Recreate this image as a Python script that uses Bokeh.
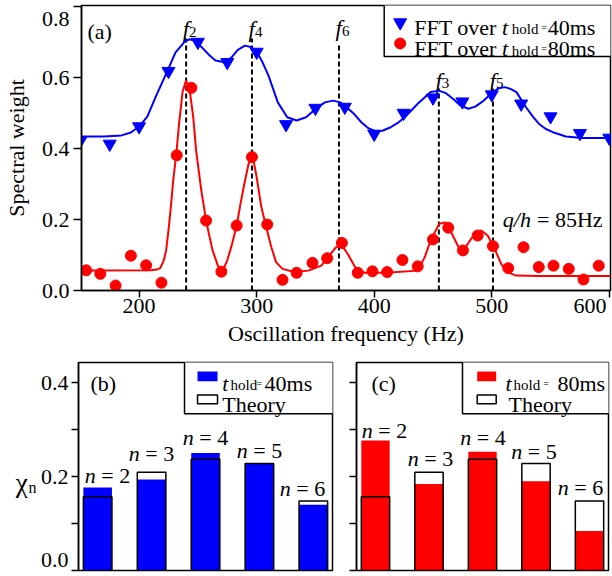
from bokeh.plotting import figure
from bokeh.layouts import column, row
from bokeh.models import Range1d, FixedTicker, CustomJSTickFormatter, CustomLabelingPolicy, LinearAxis
from bokeh.embed import file_html
from bokeh.resources import INLINE
from bokeh.core.properties import value

SERIF = "Liberation Serif"
BLUE = "#0000ff"
RED = "#ff0000"

# ---------------- data: panel (a) ----------------
freq_40ms = [150, 175, 200, 225, 250, 275, 300, 325, 350, 375, 400, 425, 450, 475, 500, 525, 550, 575, 600]
weight_40ms = [0.422, 0.413, 0.462, 0.618, 0.700, 0.643, 0.672, 0.468, 0.514, 0.517, 0.441, 0.500, 0.543,
               0.532, 0.552, 0.526, 0.490, 0.443, 0.430]

freq_80ms = [155, 167, 180, 193, 206, 219, 232, 244.5, 257, 270, 283, 296, 309, 322, 334, 347.5, 360, 372.5,
             386, 398.5, 411, 424, 437, 450, 463, 475.5, 488, 501, 514, 527, 540, 552.5, 565.5, 578, 591]
weight_80ms = [0.057, 0.047, 0.014, 0.098, 0.071, 0.022, 0.381, 0.571, 0.197, 0.053, 0.183, 0.376, 0.186,
               0.030, 0.050, 0.078, 0.091, 0.134, 0.050, 0.054, 0.052, 0.086, 0.068, 0.144, 0.177, 0.113,
               0.155, 0.125, 0.063, 0.122, 0.066, 0.070, 0.061, 0.031, 0.070]

fit_freq_40ms = [150, 170, 185, 193, 200, 207, 214, 224, 231, 239, 243, 248, 254, 260, 265, 273, 279, 284, 290,
                 295, 300, 305, 310, 318, 326, 334, 342, 351, 358, 365, 371, 376, 383, 389, 395, 401, 407, 414,
                 420, 426, 437, 448, 455, 461, 467, 473, 480, 486, 492, 501, 506, 511, 516, 521, 529, 535, 540,
                 546, 552, 563, 577, 601]
fit_weight_40ms = [0.434, 0.434, 0.437, 0.445, 0.462, 0.490, 0.545, 0.618, 0.671, 0.702, 0.708, 0.703, 0.683,
                   0.662, 0.648, 0.643, 0.658, 0.678, 0.690, 0.686, 0.673, 0.643, 0.606, 0.530, 0.488, 0.479,
                   0.488, 0.514, 0.530, 0.535, 0.530, 0.518, 0.497, 0.474, 0.457, 0.449, 0.450, 0.460, 0.472,
                   0.488, 0.526, 0.559, 0.563, 0.556, 0.540, 0.522, 0.512, 0.518, 0.532, 0.559, 0.570, 0.573,
                   0.568, 0.559, 0.517, 0.490, 0.470, 0.455, 0.446, 0.434, 0.430, 0.430]

fit_freq_80ms = [150, 210, 215, 218, 221, 223, 225, 227, 229, 231.5, 234, 237, 240, 243, 246, 248.5, 251, 253,
                 257, 260, 262.5, 267, 270, 272, 275, 279, 283, 286, 289.5, 293, 296, 298, 300, 304, 308,
                 312.5, 316.5, 322, 332, 344, 355, 363, 367, 370.5, 374, 377.5, 384.5, 392, 410, 437, 443,
                 448.5, 455.5, 460, 465.5, 472.5, 476, 482.5, 487, 491, 496.5, 502.5, 508, 513.5, 520.5, 540, 601]
fit_weight_80ms = [0.056, 0.057, 0.059, 0.063, 0.085, 0.113, 0.170, 0.235, 0.310, 0.380, 0.470, 0.560, 0.592,
                   0.565, 0.490, 0.394, 0.330, 0.280, 0.197, 0.150, 0.113, 0.070, 0.056, 0.062, 0.085, 0.130,
                   0.183, 0.240, 0.300, 0.355, 0.378, 0.355, 0.319, 0.235, 0.180, 0.122, 0.080, 0.061, 0.052,
                   0.056, 0.070, 0.103, 0.120, 0.128, 0.120, 0.103, 0.061, 0.050, 0.050, 0.056, 0.094, 0.146,
                   0.188, 0.192, 0.164, 0.117, 0.113, 0.146, 0.163, 0.169, 0.155, 0.117, 0.075, 0.052, 0.042,
                   0.041, 0.041]

mode_index = ["2", "4", "6", "3", "5"]
mode_freq = [240, 296, 370, 455, 501]

freq_ticks = [200, 300, 400, 500, 600]
weight_ticks = [0.0, 0.2, 0.4, 0.6, 0.8]

# ---------------- data: panels (b), (c) ----------------
n_values = [2, 3, 4, 5, 6]
chi_40ms = [0.177, 0.194, 0.250, 0.229, 0.140]
chi_80ms = [0.277, 0.184, 0.253, 0.190, 0.084]
chi_theory = [0.157, 0.209, 0.237, 0.228, 0.148]
n_labels = ["2", "3", "4", "5", "6"]
chi_ticks = [0.0, 0.2, 0.4]
chi_minor_ticks = [0.1, 0.3]

# ---------------- layout constants (label positions, in data units) ----------------
mode_line_top = [0.71, 0.71, 0.699, 0.569, 0.569]
mode_label_base = [0.735, 0.735, 0.738, 0.589, 0.589]
# the reference draws the corner tick numbers nudged inward
weight_label_pos = [0.0, 0.2, 0.4, 0.6, 0.766]
freq_label_pos = [200, 300, 400, 500, 583.6]
chi_label_pos = [0.0213, 0.2, 0.4]

n_label_x_b = [2.184, 2.999, 4.0, 5.002, 5.80]
n_label_y_b = [0.202, 0.249, 0.283, 0.255, 0.174]
n_label_x_c = [2.168, 3.028, 4.009, 4.963, 5.832]
n_label_y_c = [0.298, 0.238, 0.283, 0.253, 0.177]

TOOLS = dict(output_backend="svg", toolbar_location=None)


def base_style(p):
    p.grid.visible = False
    p.background_fill_color = "white"
    p.border_fill_color = "white"


def frame_style(p):
    base_style(p)
    p.outline_line_color = "black"
    p.outline_line_width = 1.5


def tick_axis(ax, out):
    """Axis that draws its line and tick marks; its numbers come from a second, stacked axis."""
    ax.axis_line_color = "black"
    ax.axis_line_width = 1.5
    ax.major_tick_line_color = "black"
    ax.major_tick_line_width = 1.5
    ax.major_tick_in = 0
    ax.major_tick_out = out
    ax.minor_tick_line_color = None
    ax.major_label_text_font_size = "0px"
    ax.major_label_standoff = 0
    ax.major_label_policy = CustomLabelingPolicy(code="return [];")


def label_axis(ticks, fmt_code, standoff, title=None, title_standoff=0):
    """Axis that only draws the numbers (and title)."""
    ax = LinearAxis(ticker=FixedTicker(ticks=ticks), formatter=CustomJSTickFormatter(code=fmt_code))
    ax.axis_line_color = None
    ax.major_tick_line_color = None
    ax.minor_tick_line_color = None
    ax.major_tick_in = 0
    ax.major_tick_out = 0
    ax.minor_tick_in = 0
    ax.minor_tick_out = 0
    ax.major_label_standoff = standoff
    ax.major_label_text_font = SERIF
    ax.major_label_text_font_size = "22px"
    ax.major_label_text_color = "black"
    if title:
        ax.axis_label = title
        ax.axis_label_standoff = title_standoff
        ax.axis_label_text_font = SERIF
        ax.axis_label_text_font_size = "22px"
        ax.axis_label_text_font_style = "normal"
        ax.axis_label_text_color = "black"
    return ax


def txt(p, x, y, s, size="22px", style="normal", align="left", baseline="alphabetic", dx=0, dy=0):
    p.text(x=[x], y=[y], text=[s], text_font=value(SERIF), text_font_size=size, text_font_style=style,
           text_align=align, text_baseline=baseline, x_offset=dx, y_offset=dy, text_color="black")


# ---------------- panel (a) ----------------
pa = figure(width=612, height=352, x_range=Range1d(151, 601), y_range=Range1d(0, 0.803),
            min_border_left=80, min_border_right=2, min_border_top=5, min_border_bottom=62, **TOOLS)
frame_style(pa)
pa.xaxis.ticker = FixedTicker(ticks=freq_ticks)
pa.yaxis.ticker = FixedTicker(ticks=weight_ticks)
tick_axis(pa.xaxis[0], 7)
tick_axis(pa.yaxis[0], 8)
pa.add_layout(label_axis(freq_label_pos, "return tick > 550 ? '600' : tick.toFixed(0);", 1,
                         "Oscillation frequency (Hz)", 5), "below")
pa.add_layout(label_axis(weight_label_pos, "return tick > 0.7 ? '0.8' : tick.toFixed(1);", 4,
                         "Spectral weight", 10), "left")

pa.segment(x0=mode_freq, y0=[0] * len(mode_freq), x1=mode_freq, y1=mode_line_top,
           line_color="black", line_width=2, line_dash="5 3")
pa.text(x=mode_freq, y=mode_label_base, text=["f"] * len(mode_freq), text_font=value(SERIF),
        text_font_size="23px", text_font_style="italic", text_align="right", text_baseline="alphabetic",
        x_offset=3)
pa.text(x=mode_freq, y=mode_label_base, text=mode_index, text_font=value(SERIF),
        text_font_size="15px", text_align="left", text_baseline="alphabetic", x_offset=3, y_offset=2)

pa.line(fit_freq_40ms, fit_weight_40ms, line_color=BLUE, line_width=2)
pa.line(fit_freq_80ms, fit_weight_80ms, line_color=RED, line_width=2)
pa.scatter(freq_40ms, weight_40ms, marker="inverted_triangle", size=13, fill_color=BLUE, line_color=BLUE)
pa.scatter(freq_80ms, weight_80ms, marker="circle", size=11, fill_color=RED, line_color=RED)

txt(pa, 156.1, 0.73, "(a)")
txt(pa, 509.4, 0.20, "q/h", style="italic")
txt(pa, 538.5, 0.20, "= 85Hz")

# legend (a)
pa.quad(left=[408.5], right=[602], bottom=[0.659], top=[0.81], fill_color="white", line_color="black",
        line_width=1.5)
pa.scatter([422.1], [0.755], marker="inverted_triangle", size=13, fill_color=BLUE, line_color=BLUE)
pa.scatter([422.1], [0.696], marker="circle", size=11, fill_color=RED, line_color=RED)
for base, label in ((0.742, "40ms"), (0.681, "80ms")):
    txt(pa, 434.0, base, "FFT over")
    txt(pa, 508.8, base, "t", style="italic")
    txt(pa, 517.0, base, "hold", size="15px", dy=2)
    txt(pa, 542.0, base, "=", size="10px", dy=0)
    txt(pa, 547.6, base, label)


# ---------------- panels (b), (c) ----------------
def chi_panel(chi_meas, color, width, bl, br, lab_x, lab_y, leg, hold_label, numbers):
    p = figure(width=width, height=220, x_range=Range1d(1.645, 6.355), y_range=Range1d(0, 0.443),
               min_border_left=bl, min_border_right=br, min_border_top=10, min_border_bottom=2, **TOOLS)
    frame_style(p)
    p.xaxis.visible = False
    p.yaxis.ticker = FixedTicker(ticks=chi_ticks, minor_ticks=chi_minor_ticks)
    tick_axis(p.yaxis[0], 7)
    p.yaxis.minor_tick_line_color = "black"
    p.yaxis.minor_tick_line_width = 1.5
    p.yaxis.minor_tick_in = 0
    p.yaxis.minor_tick_out = 7
    if numbers:
        p.add_layout(label_axis(chi_label_pos, "return tick < 0.1 ? '0.0' : tick.toFixed(1);", 3), "left")

    p.vbar(x=n_values, top=chi_meas, width=0.53, fill_color=color, line_color=None)
    p.vbar(x=n_values, top=chi_theory, width=0.53, fill_alpha=0, line_color="black", line_width=1.5)

    for x, y, s in zip(lab_x, lab_y, n_labels):
        txt(p, x, y, "n", style="italic", baseline="middle", dx=-22.7)
        txt(p, x, y, "= " + s, baseline="middle", dx=-6.2)

    txt(p, leg["tag_x"], 0.398, leg["tag"], baseline="middle")

    # legend box
    p.quad(left=[leg["left"]], right=[6.5], bottom=[0.334], top=[0.46], fill_color="white",
           line_color="black", line_width=1.5)
    p.quad(left=[leg["p0"]], right=[leg["p1"]], bottom=[0.403], top=[0.424], fill_color=color,
           line_color=None)
    p.quad(left=[leg["p0"]], right=[leg["p1"]], bottom=[0.355], top=[0.374], fill_color="white",
           line_color="black", line_width=1.5)
    txt(p, leg["t"], 0.399, "t", style="italic")
    txt(p, leg["hold"], 0.399, "hold", size="15px", dy=2)
    txt(p, leg["eq"], 0.399, "=", size="10px", dy=0)
    txt(p, leg["ms"], 0.399, hold_label)
    txt(p, leg["theory"], 0.353, "Theory")
    return p


leg_b = dict(left=3.611, p0=3.852, p1=4.223, t=4.310, hold=4.464, eq=4.946, ms=5.095, theory=4.310,
             tag="(b)", tag_x=1.868)
leg_c = dict(left=3.626, p0=3.901, p1=4.256, t=4.430, hold=4.579, eq=5.135, ms=5.402, theory=4.486,
             tag="(c)", tag_x=1.925)

pb = chi_panel(chi_40ms, BLUE, 298, 42, 2, n_label_x_b, n_label_y_b, leg_b, "40ms", True)
pc = chi_panel(chi_80ms, RED, 278, 22, 4, n_label_x_c, n_label_y_c, leg_c, "80ms", False)

# strip left of (b) that holds the axis symbol chi_n
yb = figure(width=36, height=220, x_range=Range1d(0, 36), y_range=pb.y_range,
            min_border_left=0, min_border_right=0, min_border_top=10, min_border_bottom=2, **TOOLS)
base_style(yb)
yb.outline_line_color = None
yb.xaxis.visible = False
yb.yaxis.visible = False
txt(yb, 21.3, 0.187, "χ", size="27px", align="center")
txt(yb, 28.0, 0.176, "n", size="16px")

layout = column(pa, row(yb, pb, pc))
open("out.html", "w").write(file_html(layout, INLINE))
